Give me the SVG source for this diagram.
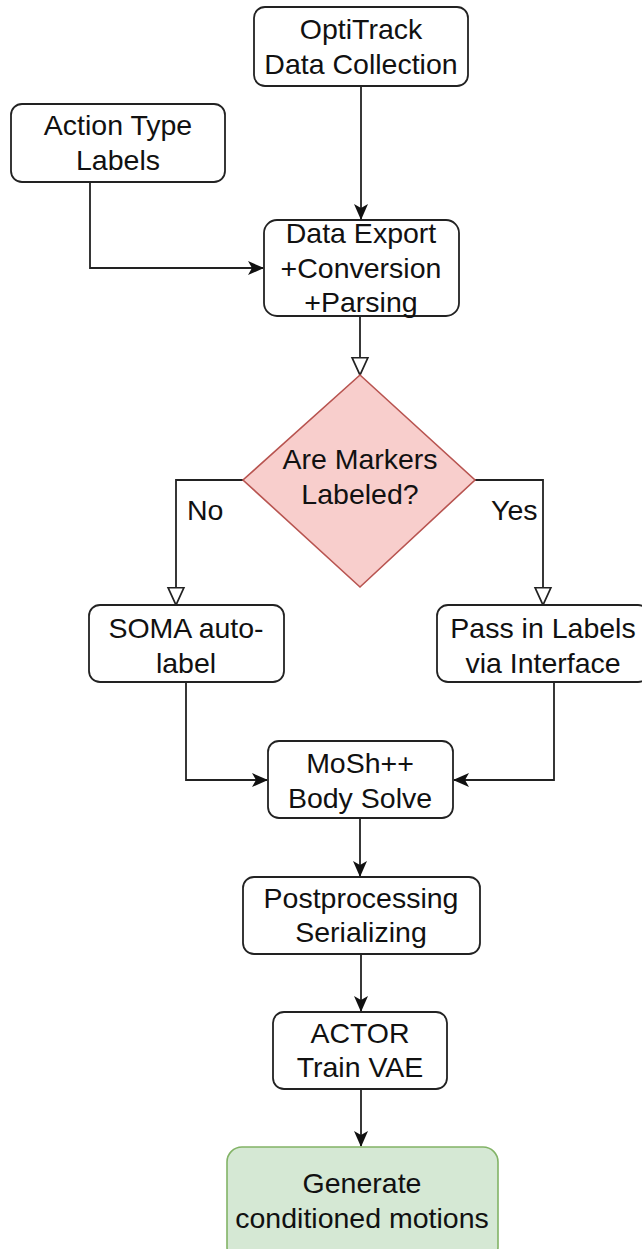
<svg xmlns="http://www.w3.org/2000/svg" width="642" height="1249" viewBox="0 0 642 1249">
<style>
.box{fill:#ffffff;stroke:#222222;stroke-width:1.8}
.dia{fill:#f8cecc;stroke:#b85450;stroke-width:1.6}
.gen{fill:#d5e8d4;stroke:#82b366;stroke-width:1.6}
.t{font-family:"Liberation Sans",Arial,Helvetica,sans-serif;font-size:28.5px;fill:#111111;text-anchor:middle}
.tl{font-family:"Liberation Sans",Arial,Helvetica,sans-serif;font-size:28.5px;fill:#111111}
.c{fill:none;stroke:#222222;stroke-width:1.8}
</style>
<defs>
<marker id="solid" markerUnits="userSpaceOnUse" markerWidth="16" markerHeight="16" viewBox="0 0 16 16" refX="15" refY="8" orient="auto">
<path d="M0,1 L16,8 L0,15 L4,8 Z" fill="#111111"/>
</marker>
<marker id="open" markerUnits="userSpaceOnUse" markerWidth="20" markerHeight="20" viewBox="0 0 20 20" refX="18.5" refY="10" orient="auto">
<path d="M1,2 L18.5,10 L1,18 Z" fill="#ffffff" stroke="#222222" stroke-width="1.8"/>
</marker>
</defs>
<rect width="642" height="1249" fill="#ffffff"/>
<g id="connectors">
<path class="c" d="M361,86 L361,219" marker-end="url(#solid)"/>
<path class="c" d="M90,182 L90,268 L263,268" marker-end="url(#solid)"/>
<path class="c" d="M360,316 L360,375" marker-end="url(#open)"/>
<path class="c" d="M243,480 L176,480 L176,605" marker-end="url(#open)"/>
<path class="c" d="M475,480 L543,480 L543,605" marker-end="url(#open)"/>
<path class="c" d="M186,682 L186,780 L267,780" marker-end="url(#solid)"/>
<path class="c" d="M554,682 L554,780 L454,780" marker-end="url(#solid)"/>
<path class="c" d="M360,818 L360,876" marker-end="url(#solid)"/>
<path class="c" d="M361,954 L361,1011" marker-end="url(#solid)"/>
<path class="c" d="M361,1089 L361,1146" marker-end="url(#solid)"/>
<text class="tl" x="187" y="520">No</text>
<text class="tl" x="491" y="520">Yes</text>
</g>
<g id="optitrack">
<rect class="box" x="254" y="7" width="214" height="79" rx="11"/>
<text class="t" x="361" y="39">OptiTrack</text>
<text class="t" x="361" y="74">Data Collection</text>
</g>
<g id="action">
<rect class="box" x="11" y="104" width="214" height="78" rx="11"/>
<text class="t" x="118" y="135">Action Type</text>
<text class="t" x="118" y="170">Labels</text>
</g>
<g id="export">
<rect class="box" x="264" y="220" width="195" height="96" rx="13"/>
<text class="t" x="361" y="243">Data Export</text>
<text class="t" x="361" y="278">+Conversion</text>
<text class="t" x="361" y="312">+Parsing</text>
</g>
<g id="decision">
<path class="dia" d="M360,375 L475,480 L360,587 L243,480 Z"/>
<text class="t" x="360" y="469">Are Markers</text>
<text class="t" x="360" y="504">Labeled?</text>
</g>
<g id="soma">
<rect class="box" x="89" y="605" width="195" height="77" rx="11"/>
<text class="t" x="186" y="638">SOMA auto-</text>
<text class="t" x="186" y="673">label</text>
</g>
<g id="pass">
<rect class="box" x="437" y="605" width="212" height="77" rx="11"/>
<text class="t" x="543" y="638">Pass in Labels</text>
<text class="t" x="543" y="673">via Interface</text>
</g>
<g id="mosh">
<rect class="box" x="268" y="741" width="185" height="77" rx="11"/>
<text class="t" x="360" y="773">MoSh++</text>
<text class="t" x="360" y="808">Body Solve</text>
</g>
<g id="post">
<rect class="box" x="243" y="877" width="237" height="77" rx="11"/>
<text class="t" x="361" y="908">Postprocessing</text>
<text class="t" x="361" y="942">Serializing</text>
</g>
<g id="actor">
<rect class="box" x="273" y="1012" width="174" height="77" rx="11"/>
<text class="t" x="360" y="1043">ACTOR</text>
<text class="t" x="360" y="1077">Train VAE</text>
</g>
<g id="generate">
<rect class="gen" x="227" y="1147" width="271" height="115" rx="15"/>
<text class="t" x="362" y="1193">Generate</text>
<text class="t" x="362" y="1228">conditioned motions</text>
</g>
</svg>
